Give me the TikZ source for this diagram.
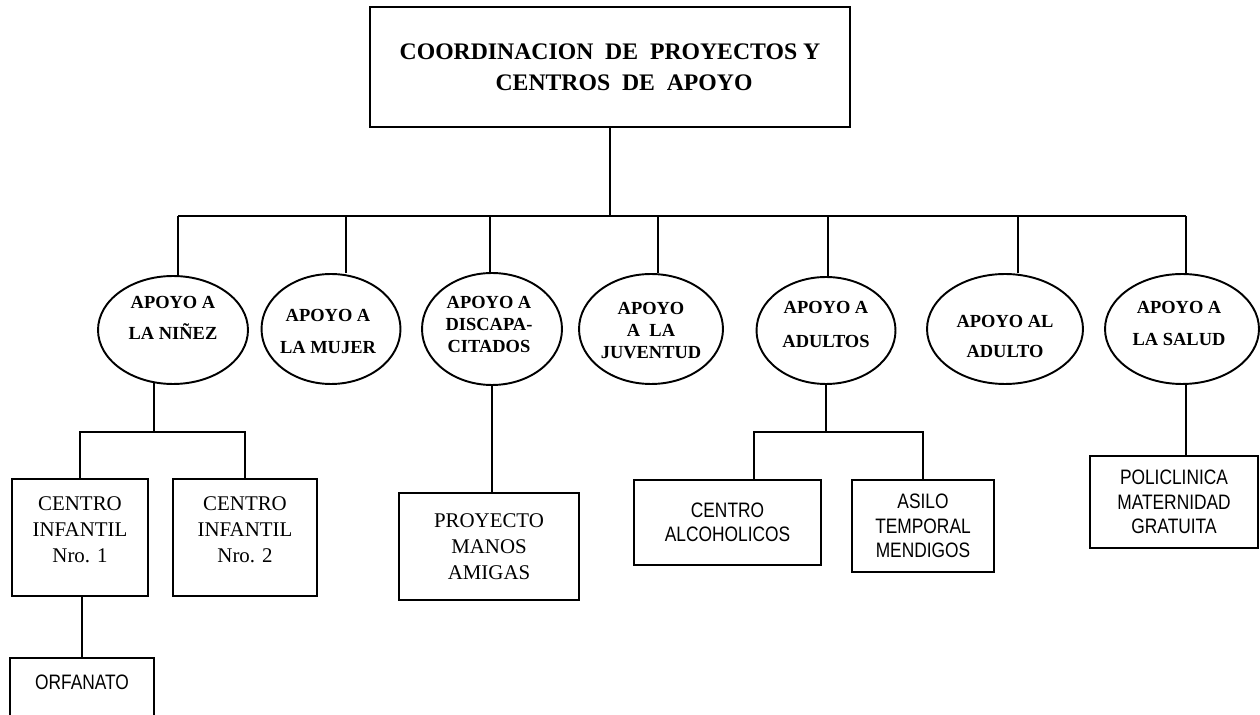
\documentclass[tikz,border=0pt]{standalone}
\usepackage{fontspec}
\setmainfont{Liberation Serif}
\setsansfont[FakeStretch=0.83]{Liberation Sans}
\usetikzlibrary{shapes.geometric}

\begin{document}
\begin{tikzpicture}[
    x=0.02cm, y=-0.02cm,
    linea/.style={line width=1.1pt},
    jefe/.style={rectangle, draw, line width=1.1pt, minimum width=9.6cm, minimum height=2.4cm,
                 align=center, font=\bfseries\fontsize{13.5pt}{17.9pt}\selectfont},
    apoyo/.style={ellipse, draw, line width=1.1pt, inner sep=0pt},
    etq/.style={align=center, inner sep=0pt, font=\bfseries\fontsize{10.5pt}{12.6pt}\selectfont},
    centro/.style={rectangle, draw, line width=1.1pt, inner sep=0pt, align=center,
                   font=\fontsize{11.9pt}{14.7pt}\selectfont},
    centrosf/.style={rectangle, draw, line width=1.1pt, inner sep=0pt, align=center,
                     font=\sffamily\fontsize{11.9pt}{13.9pt}\selectfont},
    txt/.style={align=center, inner sep=0pt, font=\fontsize{11.9pt}{14.7pt}\selectfont},
    txtsf/.style={align=center, inner sep=0pt, font=\sffamily\fontsize{11.9pt}{13.9pt}\selectfont}
  ]
    \useasboundingbox (0,0) rectangle (1260,715);
    \clip (0,0) rectangle (1260,715);

    %--- Top box ---
    \node[jefe] (coord) at (610,67)
      {COORDINACION~ DE~ PROYECTOS Y\\\hspace*{16pt}CENTROS~ DE~ APOYO};

    %--- Second level (ellipses) ---
    \node[apoyo, minimum width=3cm, minimum height=2.16cm,
          label={[etq, yshift=7.1pt]center:{APOYO A\\[5pt]LA NIÑEZ}}]       (ninez)   at (173,330) {};
    \node[apoyo, minimum width=2.78cm, minimum height=2.2cm,
          label={[etq, yshift=-1.4pt, xshift=-1.7pt]center:{APOYO A\\[6.1pt]LA MUJER}}] (mujer) at (331,329) {};
    \node[apoyo, minimum width=2.8cm, minimum height=2.24cm,
          label={[etq, yshift=2.6pt, xshift=-1.7pt]center:{APOYO A\\DISCAPA-\\CITADOS}}] (disc) at (492,329) {};
    \node[apoyo, minimum width=2.88cm, minimum height=2.2cm,
          label={[etq, yshift=-0.9pt]center:{APOYO\\A~ LA\\JUVENTUD}}]      (juv)     at (651,329) {};
    \node[apoyo, minimum width=2.78cm, minimum height=2.14cm,
          label={[etq, yshift=3.4pt]center:{APOYO A\\[7.2pt]ADULTOS}}]      (adultos) at (826,330.5) {};
    \node[apoyo, minimum width=3.12cm, minimum height=2.2cm,
          label={[etq, yshift=-4.5pt]center:{APOYO AL\\[4.4pt]ADULTO}}]     (adulto)  at (1005,329) {};
    \node[apoyo, minimum width=3.08cm, minimum height=2.2cm,
          label={[etq, yshift=3.1pt, xshift=-1.7pt]center:{APOYO A\\[6.1pt]LA SALUD}}] (salud) at (1182,329) {};

    %--- Third level (boxes) ---
    \node[centro, minimum width=2.72cm, minimum height=2.34cm,
          label={[txt, yshift=4.5pt]center:{CENTRO\\INFANTIL\\Nro. 1}}]     (ci1)  at (80,537.5) {};
    \node[centro, minimum width=2.88cm, minimum height=2.34cm,
          label={[txt, yshift=4.5pt]center:{CENTRO\\INFANTIL\\Nro. 2}}]     (ci2)  at (245,537.5) {};
    \node[centrosf, minimum width=2.88cm, minimum height=1.64cm,
          label={[txtsf, yshift=9.6pt]center:{ORFANATO}}]                   (orf)  at (82,699) {};
    \node[centro, minimum width=3.6cm, minimum height=2.14cm]   (pma)  at (489,546.5) {PROYECTO\\MANOS\\AMIGAS};
    \node[centrosf, minimum width=3.74cm, minimum height=1.7cm] (ca)   at (727.5,522.5) {CENTRO\\ALCOHOLICOS};
    \node[centrosf, minimum width=2.84cm, minimum height=1.84cm] (atm) at (923,526) {ASILO\\TEMPORAL\\MENDIGOS};
    \node[centrosf, minimum width=3.36cm, minimum height=1.84cm] (poli) at (1174,502) {POLICLINICA\\MATERNIDAD\\GRATUITA};

    %--- Main bus ---
    \coordinate (busL) at (178,216);
    \coordinate (busR) at (1186,216);
    \draw[linea] (coord.south) -- (coord.south |- busL);
    \draw[linea] (busL) -- (busR);
    \foreach \n/\x in {ninez/178, mujer/346, disc/490, juv/658, adultos/828, adulto/1018, salud/1186}
      \draw[linea] (\x,216) -- (\x,0 |- \n.north);

    %--- Lower branches ---
    \draw[linea] (ninez.250) -- (ninez.250 |- 0,432) coordinate (nbus);
    \draw[linea] (ci1.north) |- (nbus) -| (ci2.north);
    \draw[linea] (orf.north |- ci1.south) -- (orf.north);
    \draw[linea] (disc.south) -- (disc.south |- pma.north);
    \draw[linea] (adultos.south) -- (adultos.south |- 0,432) coordinate (abus);
    \draw[linea] (754,0 |- ca.north) |- (abus) -| (atm.north);
    \draw[linea] (1186,0 |- salud.south) -- (1186,0 |- poli.north);
  \end{tikzpicture}
\end{document}
